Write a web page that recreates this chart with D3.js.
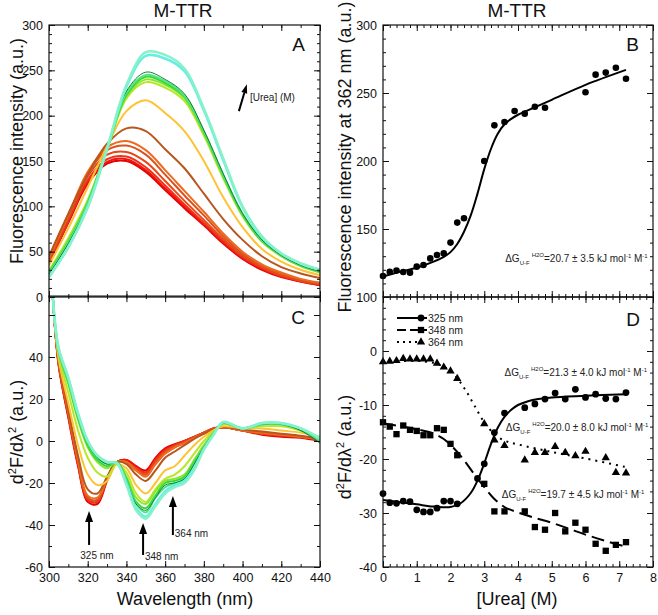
<!DOCTYPE html>
<html><head><meta charset="utf-8">
<script src="https://cdn.jsdelivr.net/npm/d3@7"></script>
<style>
body{margin:0;background:#fff;}
svg{display:block;font-family:"Liberation Sans",Arial,Helvetica,sans-serif;}
</style></head><body>
<svg id="chart" width="658" height="615"></svg>
<script>
// ---------------- DATA ----------------
const wavelengthA = [300,310,320,330,340,350,360,370,380,390,400,410,420,430,440];
const spectraColors = ["#e60000","#ee1410","#f0301a","#e84818","#d9531e","#ee6a20","#b8561c","#ffc233","#b8e62a","#8ce62e","#33d933","#4de680","#1a7a3a","#66eee4","#86f2c8"];
const spectraWidths = [2,2,2,2,2,2,2,2,2,2,2,2,1,2.6,2.4];
const emissionSpectra = [
  [37,82,125,147,150,138,118,98,79,59,42,30,22,17,13],
  [37,83,127,149,152,140,120,100,80,60,43,31,23,17,13],
  [38,84,129,152,155,143,123,102,82,62,44,32,23,18,14],
  [40,87,133,157,160,149,128,106,85,64,46,33,24,18,14],
  [42,89,136,162,167,157,135,112,90,67,48,35,26,19,15],
  [43,91,138,165,172,162,140,117,94,70,50,36,27,20,16],
  [45,92,135,169,186,183,163,142,114,86,63,45,33,26,21],
  [35,76,121,166,205,217,203,183,150,110,77,53,39,30,24],
  [29,65,107,163,219,237,231,216,178,131,89,61,45,34,27],
  [28,63,105,163,221,240,234,219,181,133,90,62,45,34,27],
  [27,61,104,163,223,243,236,221,182,134,91,62,46,35,28],
  [26,60,103,163,225,245,238,222,183,135,92,63,46,35,28],
  [25,59,101,163,227,248,240,224,184,136,92,63,46,35,28],
  [22,55,99,163,232,266,263,249,206,151,99,66,48,37,30],
  [22,55,99,164,234,270,267,252,208,153,100,67,48,37,30]
];
const wavelengthC = [302,305,310,315,320,325,330,335,340,345,350,355,360,365,370,375,380,385,390,400,410,420,430,440];
const derivSpectra = [
  [68,36,11,-12,-29,-30,-19,-10,-9,-12,-14,-8,-3.5,-1.5,0,2,4,6,6.5,5,3,2,1.5,0],
  [68,36,12,-11,-28,-29,-18,-10,-9,-12,-15,-9,-4,-2,0,2,4,6,6.5,5,3.5,2.5,2,0.5],
  [68,37,12,-11,-28,-29,-18,-10,-10,-13,-15,-9,-4.5,-2,0,2,4,6,6.5,5,3.5,2.5,2,0.5],
  [68,37,13,-10,-27,-28,-18,-10,-10,-13,-16,-10,-5,-2.5,-0.5,1.5,4,6,6.5,5,3.5,3,2,0.5],
  [68,37,13,-10,-27,-28,-18,-10,-10,-14,-16,-11,-6,-3,-1,1.5,3.5,5.5,6.5,5,4,3,2,1],
  [68,38,14,-9,-26,-27,-18,-10,-10,-14,-17,-11,-6,-3,-1,1.5,3.5,5.5,6.5,5,4,3,2,1],
  [68,38,15,-7,-23,-25,-17,-10,-11,-16,-19,-14,-8,-5,-2,1,3.5,5.5,6.5,5.5,4.5,3.5,2.5,1],
  [68,39,18,-2,-16,-21,-19,-11,-13,-21,-25,-20,-14,-12,-7,-2,2,5,7,6,6,5,4,2],
  [68,41,23,5,-8,-15,-17,-11,-15,-25,-29,-23,-18,-16,-12,-6,0,4.5,8,6,7,7,5,1.5],
  [68,42,27,10,-3,-10,-13,-10,-17,-27,-30,-24,-19,-18,-16,-9,-2,4,8.5,6,8,8,5,0.5],
  [68,43,28,11,-2,-9,-12,-10,-18,-29,-32,-26,-20,-19,-17,-10,-3,3.5,8.5,6,8,8,5.5,0],
  [68,43,29,12,-1,-8,-11,-10.5,-19,-30,-34,-27,-22,-20,-18,-11,-3,3.5,8.5,6,8,8,6,0],
  [68,43,29,12,-1,-8,-11,-10.5,-19,-30,-33,-27,-21,-20,-18,-11,-3,3.5,8.5,6,8,8,5,-1],
  [68,44,30,13,0,-7,-10,-10.5,-20,-32,-36,-30,-24,-21,-19,-13,-4,3,9,6,8.5,8.5,6,1],
  [68,44,30,13,0,-7,-10,-10.5,-21,-33,-37,-31,-25,-22,-20,-14,-4,3,9,6,8.5,8.5,6,1.5]
];
const ureaB = [0,0.2,0.4,0.6,0.8,1.0,1.2,1.4,1.6,1.8,2.0,2.2,2.4,3.0,3.3,3.6,3.9,4.2,4.5,4.8,6.0,6.3,6.6,6.9,7.2];
const fluor362 = [115.4,118.6,119.4,118.4,117.9,122.3,123.5,128.4,130.9,132.1,140,154.7,157.9,200,226.2,228.7,236.8,234.8,239.9,239.2,250.5,263.5,265,268.6,260.5];
const fitUreaB = [0,0.5,1.0,1.5,1.8,2.0,2.2,2.4,2.6,2.8,3.0,3.2,3.4,3.6,3.8,4.0,4.5,5.0,6.0,7.2];
const fitFluor362 = [115,118.5,121.5,126,129.5,133,139,148,160,176,194,209,220,227,231,234,239.5,245,256,267];

const urea325 = [0,0.2,0.4,0.6,0.8,1.0,1.2,1.4,1.6,1.8,2.0,2.2,2.8,3.0,3.3,3.6,4.2,4.5,4.8,5.1,5.4,5.7,6.0,6.3,6.6,6.9,7.2];
const d2F325 = [-26.4,-28.1,-28.2,-27.8,-27.9,-29.4,-29.8,-29.8,-29.1,-27.8,-27.8,-28.3,-23.6,-20.9,-15.1,-11.5,-10.5,-9.8,-8.9,-7.8,-8.9,-7.1,-8.6,-8.0,-8.8,-8.9,-7.7];
const urea348 = [0,0.2,0.4,0.6,0.8,1.0,1.2,1.4,1.6,1.8,2.0,2.2,3.0,3.3,3.6,4.2,4.5,4.8,5.1,5.4,5.7,6.0,6.3,6.6,6.9,7.2];
const d2F348 = [-13.2,-14.0,-15.4,-13.8,-14.6,-14.8,-15.6,-15.6,-14.3,-14.6,-17.2,-19.3,-24.6,-29.7,-29.7,-29.7,-32.6,-33.1,-30.0,-33.4,-31.8,-33.1,-35.7,-37.0,-35.9,-35.4];
const urea364 = [0,0.2,0.4,0.6,0.8,1.0,1.2,1.4,1.6,1.8,2.0,2.2,3.0,3.3,3.6,4.2,4.5,4.8,5.1,5.4,5.7,6.0,6.6,6.9,7.2];
const d2F364 = [-2.0,-1.9,-1.8,-1.4,-1.5,-1.5,-1.5,-1.5,-2.3,-3.0,-3.7,-5.1,-13.5,-16.5,-17.5,-20.2,-18.8,-18.8,-17.7,-18.8,-19.4,-18.6,-19.8,-22.5,-22.6];

const fitU325 = [0,0.5,1.0,1.5,2.0,2.3,2.6,2.8,3.0,3.2,3.4,3.6,3.8,4.0,4.3,4.6,5.0,6.0,7.2];
const fitD325 = [-27.6,-28.0,-28.4,-28.8,-28.9,-28.2,-26.3,-24,-20.8,-17.2,-14.2,-12.2,-10.9,-10.0,-9.3,-8.9,-8.6,-8.3,-8.0];
const fitU348 = [0,0.5,1.0,1.5,1.8,2.1,2.4,2.7,3.0,3.3,3.6,4.0,4.5,5.0,5.5,6.0,6.5,7.0,7.2];
const fitD348 = [-13.4,-13.9,-14.5,-15.3,-16.3,-18,-20.2,-22.8,-25.2,-27.4,-28.9,-29.9,-30.9,-31.8,-32.9,-34,-35,-35.9,-36.2];
const fitU364 = [0,0.5,1.0,1.5,1.8,2.1,2.4,2.7,3.0,3.3,3.6,4.0,5.0,6.0,7.2];
const fitD364 = [-2.1,-1.9,-1.8,-2.2,-2.9,-4.3,-6.8,-10,-13.2,-15.4,-16.6,-17.3,-18.7,-19.9,-21.5];

const legendLabels = ["325 nm","348 nm","364 nm"];
const dGLabelB = "=20.7 ± 3.5 kJ mol";
const dGLabelsD = ["=21.3 ± 4.0 kJ mol","=20.0 ± 8.0 kJ mol","=19.7 ± 4.5 kJ mol"];

// ---------------- DRAW ----------------
const svg = d3.select("#chart");
const FONT = "'Liberation Sans',Arial,sans-serif";

const xA = d3.scaleLinear([300,440],[49,320]);
const yA = d3.scaleLinear([0,300],[297,25]);
const yC = d3.scaleLinear([-60,69],[567,296.1]);
const xB = d3.scaleLinear([0,8],[383,653]);
const yB = d3.scaleLinear([100,300],[297,25]);
const yD = d3.scaleLinear([-40,10],[567,297]);

const defs = svg.append("defs");
function clip(id, x, y){
  defs.append("clipPath").attr("id",id).append("rect")
    .attr("x",x.range()[0]).attr("y",y.range()[1])
    .attr("width",x.range()[1]-x.range()[0]).attr("height",y.range()[0]-y.range()[1]);
}
clip("cA",xA,yA); clip("cC",xA,yC); clip("cB",xB,yB); clip("cD",xB,yD);

function range(a,b,s){const r=[];for(let v=a;v<=b+1e-9;v+=s)r.push(+v.toFixed(6));return r;}

function frameAxes(x, y, o){
  const g = svg.append("g").attr("class","axes");
  const x0=x.range()[0], x1=x.range()[1], y0=y.range()[0], y1=y.range()[1];
  const fmt = d => String(d);
  const clean = s => s.call(a=>a.select(".domain").remove()).call(a=>a.selectAll("line").attr("stroke","#111"));
  g.append("g").attr("transform",`translate(0,${y0})`)
    .call(d3.axisBottom(x).tickValues(o.xMinor).tickSize(-3).tickFormat("")).call(clean);
  g.append("g").attr("transform",`translate(0,${y0})`)
    .call(d3.axisBottom(x).tickValues(o.xMajor).tickSize(-6).tickPadding(6).tickFormat(o.xLabels?fmt:"")).call(clean)
    .selectAll("text").attr("font-size",12.5).attr("font-family",FONT).attr("fill","#111");
  g.append("g").attr("transform",`translate(0,${y1})`)
    .call(d3.axisTop(x).tickValues(o.xMinor).tickSize(-3).tickFormat("")).call(clean);
  g.append("g").attr("transform",`translate(0,${y1})`)
    .call(d3.axisTop(x).tickValues(o.xMajor).tickSize(-6).tickFormat("")).call(clean);
  g.append("g").attr("transform",`translate(${x0},0)`)
    .call(d3.axisLeft(y).tickValues(o.yMinor).tickSize(-3).tickFormat("")).call(clean);
  g.append("g").attr("transform",`translate(${x0},0)`)
    .call(d3.axisLeft(y).tickValues(o.yMajor).tickSize(-6).tickPadding(6).tickFormat(fmt)).call(clean)
    .selectAll("text").attr("font-size",12.5).attr("font-family",FONT).attr("fill","#111")
    .filter(d=>o.yHide && o.yHide.includes(d)).remove();
  g.append("g").attr("transform",`translate(${x1},0)`)
    .call(d3.axisRight(y).tickValues(o.yMinor).tickSize(-3).tickFormat("")).call(clean);
  g.append("g").attr("transform",`translate(${x1},0)`)
    .call(d3.axisRight(y).tickValues(o.yMajor).tickSize(-6).tickFormat("")).call(clean);
  g.append("rect").attr("x",x0).attr("y",y1).attr("width",x1-x0).attr("height",y0-y1)
    .attr("fill","none").attr("stroke","#111").attr("stroke-width",1.2);
}

// ---- Panel A ----
const lineA = d3.line().x((d,i)=>xA(wavelengthA[i])).y(d=>yA(d)).curve(d3.curveCatmullRom.alpha(0.5));
svg.append("g").attr("clip-path","url(#cA)").selectAll("path").data(emissionSpectra).join("path")
  .attr("d",lineA).attr("fill","none").attr("stroke",(d,i)=>spectraColors[i]).attr("stroke-width",(d,i)=>spectraWidths[i]);

// ---- Panel C ----
const lineC = d3.line().x((d,i)=>xA(wavelengthC[i])).y(d=>yC(d)).curve(d3.curveCatmullRom.alpha(0.5));
svg.append("g").attr("clip-path","url(#cC)").selectAll("path").data(derivSpectra).join("path")
  .attr("d",lineC).attr("fill","none").attr("stroke",(d,i)=>spectraColors[i]).attr("stroke-width",(d,i)=>spectraWidths[i]);

frameAxes(xA,yA,{xMajor:range(300,440,20),xMinor:range(300,440,10),yMajor:range(0,300,50),yMinor:range(0,300,10),xLabels:false});
frameAxes(xA,yC,{xMajor:range(300,440,20),xMinor:range(300,440,10),yMajor:range(-60,60,20),yMinor:range(-60,60,10),xLabels:true,yHide:[60]});

// ---- Panel B ----
svg.append("path").attr("clip-path","url(#cB)")
  .datum(fitUreaB.map((u,i)=>[u,fitFluor362[i]]))
  .attr("d",d3.line().x(d=>xB(d[0])).y(d=>yB(d[1])).curve(d3.curveCatmullRom.alpha(0.5)))
  .attr("fill","none").attr("stroke","#000").attr("stroke-width",2);
svg.append("g").selectAll("circle").data(ureaB).join("circle")
  .attr("cx",d=>xB(d)).attr("cy",(d,i)=>yB(fluor362[i])).attr("r",3.3).attr("fill","#000");

// ---- Panel D ----
const lineD = d3.line().x(d=>xB(d[0])).y(d=>yD(d[1])).curve(d3.curveCatmullRom.alpha(0.5));
const gD = svg.append("g").attr("clip-path","url(#cD)");
gD.append("path").datum(fitU325.map((u,i)=>[u,fitD325[i]])).attr("d",lineD)
  .attr("fill","none").attr("stroke","#000").attr("stroke-width",2);
gD.append("path").datum(fitU348.map((u,i)=>[u,fitD348[i]])).attr("d",lineD)
  .attr("fill","none").attr("stroke","#000").attr("stroke-width",2).attr("stroke-dasharray","13,6");
gD.append("path").datum(fitU364.map((u,i)=>[u,fitD364[i]])).attr("d",lineD)
  .attr("fill","none").attr("stroke","#000").attr("stroke-width",2).attr("stroke-dasharray","2,5");
const sym = {c:d3.symbol(d3.symbolCircle,36), s:d3.symbol(d3.symbolSquare,40), t:d3.symbol(d3.symbolTriangle,30)};
svg.append("g").selectAll("path").data(urea325).join("path")
  .attr("transform",(d,i)=>`translate(${xB(d)},${yD(d2F325[i])})`).attr("d",sym.c()).attr("fill","#000");
svg.append("g").selectAll("path").data(urea348).join("path")
  .attr("transform",(d,i)=>`translate(${xB(d)},${yD(d2F348[i])})`).attr("d",sym.s()).attr("fill","#000");
svg.append("g").selectAll("path").data(urea364).join("path")
  .attr("transform",(d,i)=>`translate(${xB(d)},${yD(d2F364[i])})`).attr("d",sym.t()).attr("fill","#000");

frameAxes(xB,yB,{xMajor:range(0,8,1),xMinor:range(0,8,0.2),yMajor:range(100,300,50),yMinor:range(100,300,10),xLabels:false});
frameAxes(xB,yD,{xMajor:range(0,8,1),xMinor:range(0,8,0.2),yMajor:range(-40,10,10),yMinor:range(-40,10,2),xLabels:true,yHide:[10]});

// legend D
const legY = [318,330,342];
const legDash = [null,"9,4","2,4"];
const legSym = [sym.c, sym.s, sym.t];
legendLabels.forEach((lab,i)=>{
  svg.append("line").attr("x1",397).attr("x2",427).attr("y1",legY[i]).attr("y2",legY[i])
    .attr("stroke","#000").attr("stroke-width",2).attr("stroke-dasharray",legDash[i]);
  svg.append("path").attr("transform",`translate(421,${legY[i]})`).attr("d",legSym[i]()).attr("fill","#000");
  svg.append("text").attr("x",428).attr("y",legY[i]+3.5).attr("font-size",10.5).attr("fill","#222").text(lab);
});

// ---- texts ----
function txt(x,y,s,size,anchor,rot){
  const t = svg.append("text").attr("font-size",size).attr("fill","#111").attr("text-anchor",anchor||"start").text(s);
  if(rot) t.attr("transform",`translate(${x},${y}) rotate(${rot})`); else t.attr("x",x).attr("y",y);
  return t;
}
txt(183,17,"M-TTR",19,"middle");
txt(517,17,"M-TTR",19,"middle");
txt(305,51,"A",19,"end");
txt(639,51,"B",19,"end");
txt(305,324,"C",19,"end");
txt(640,326,"D",19,"end");
txt(185,605,"Wavelength (nm)",18,"middle");
txt(517,605,"[Urea] (M)",18,"middle");
txt(23,151,"Fluorescence intensity (a.u.)",18,"middle",-90);
txt(351,157,"Fluorescence intensity at 362 nm (a.u.)",18,"middle",-90);

function d2Label(x,y){
  const t = svg.append("text").attr("font-size",18).attr("fill","#111").attr("text-anchor","middle")
    .attr("transform",`translate(${x},${y}) rotate(-90)`);
  t.append("tspan").text("d");
  t.append("tspan").attr("font-size",11).attr("dy",-7).text("2");
  t.append("tspan").attr("dy",7).text("F/d\u03bb");
  t.append("tspan").attr("font-size",11).attr("dy",-7).text("2");
  t.append("tspan").attr("dy",7).text(" (a.u.)");
}
d2Label(23,432);
d2Label(351,447);

function dG(x,y,main,size){
  const t = svg.append("text").attr("x",x).attr("y",y).attr("font-size",size).attr("fill","#222");
  t.append("tspan").text("\u0394G");
  t.append("tspan").attr("font-size",size*0.6).attr("dy",3).text("U-F");
  t.append("tspan").attr("font-size",size*0.6).attr("dy",-8).attr("dx",2).text("H2O");
  t.append("tspan").attr("dy",5).text(main);
  t.append("tspan").attr("font-size",size*0.6).attr("dy",-4).text("-1");
  t.append("tspan").attr("dy",4).text(" M");
  t.append("tspan").attr("font-size",size*0.6).attr("dy",-4).text("-1");
}
dG(xB(3.62),yB(125.5),dGLabelB,10);
dG(xB(3.6),yD(-4.6),dGLabelsD[0],10);
dG(xB(3.64),yD(-14.9),dGLabelsD[1],10);
dG(xB(3.52),yD(-27.2),dGLabelsD[2],10);

// arrows with explicit filled heads
function arrow(x1,y1,x2,y2,w,hl,hw){
  const dx=x2-x1, dy=y2-y1, L=Math.hypot(dx,dy), ux=dx/L, uy=dy/L;
  const bx=x2-ux*hl, by=y2-uy*hl;
  svg.append("line").attr("x1",x1).attr("y1",y1).attr("x2",bx).attr("y2",by)
    .attr("stroke","#000").attr("stroke-width",w);
  svg.append("path").attr("d",`M${x2},${y2}L${bx-uy*hw/2},${by+ux*hw/2}L${bx+uy*hw/2},${by-ux*hw/2}Z`).attr("fill","#000");
}
arrow(xA(320.7),yC(-49.5),xA(320.7),yC(-33.3),2,11,8);
arrow(xA(348.6),yC(-54.3),xA(348.6),yC(-39),2,11,8);
arrow(xA(364),yC(-44.8),xA(364),yC(-26.2),2,11,8);
txt(xA(324.8),yC(-56),"325 nm",10,"middle").attr("fill","#222");
txt(xA(349.6),yC(-56.5),"348 nm",10,"start").attr("fill","#222");
txt(xA(365),yC(-45.7),"364 nm",10,"start").attr("fill","#222");
arrow(xA(398.1),yA(205),xA(402.2),yA(234.6),2,9,6);
txt(xA(403.8),yA(216),"[Urea] (M)",10,"start").attr("fill","#222");
</script></body></html>
